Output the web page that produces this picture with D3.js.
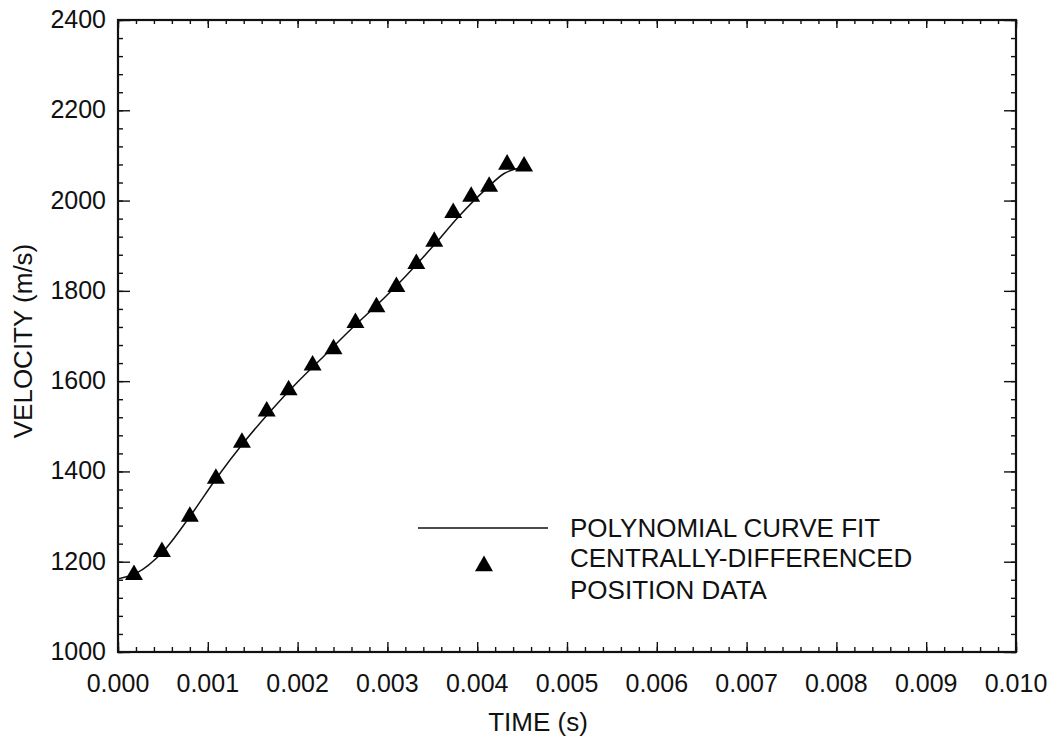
<!DOCTYPE html>
<html>
<head>
<meta charset="utf-8">
<script src="https://cdn.jsdelivr.net/npm/d3@7"></script>
<style>
  body { margin: 0; background: #fff; }
  svg { display: block; }
  text { font-family: 'Liberation Sans', Arial, Helvetica, sans-serif; fill: #111; }
</style>
</head>
<body>
<div id="plot"></div>
<script>
// Plot constants
let margin = {t: 20, r: 40, b: 86, l: 118}
let width = 1056 - margin.l - margin.r
let height = 738 - margin.t - margin.b

// Centrally-differenced position data (time in s, velocity in m/s)
let dataTime = [0.000178, 0.000489, 0.0008, 0.00109, 0.00138, 0.001656, 0.0019, 0.002167,
  0.0024, 0.002644, 0.002878, 0.0031, 0.003322, 0.003522, 0.003733, 0.003933, 0.004133,
  0.004333, 0.004522]
let dataVel = [1171, 1222, 1300, 1384, 1464, 1533, 1580, 1635, 1671, 1729, 1764, 1809,
  1860, 1909, 1973, 2009, 2031, 2080, 2076]

// Polynomial curve fit
let fitTime = [0, 0.0002, 0.0005, 0.0008, 0.0011, 0.0014, 0.0017, 0.002, 0.0023, 0.0026,
  0.0029, 0.0032, 0.0035, 0.0038, 0.0041, 0.0043, 0.0045]
let fitVel = [1162, 1174, 1222, 1300, 1386, 1464, 1534, 1598, 1657, 1716, 1772, 1832,
  1897, 1966, 2026, 2060, 2074]

// Axis ticks
let xTicks = [0, 0.001, 0.002, 0.003, 0.004, 0.005, 0.006, 0.007, 0.008, 0.009, 0.010]
let yTicks = [1000, 1200, 1400, 1600, 1800, 2000, 2200, 2400]

// Legend labels
let legendLine = ['POLYNOMIAL CURVE FIT']
let legendMarker = ['CENTRALLY-DIFFERENCED', 'POSITION DATA']

let svg = d3.select('#plot').append('svg')
  .attr('width', 1056)
  .attr('height', 738)

let g = svg.append('g')
  .attr('transform', `translate(${margin.l},${margin.t})`)

let x = d3.scaleLinear().domain([0, 0.010]).range([0, width])
let y = d3.scaleLinear().domain([1000, 2400]).range([height, 0])

// Minor ticks (5 subdivisions between labelled ticks)
let xMinor = d3.range(0, 51).map(i => i * 0.0002)
let yMinor = d3.range(0, 36).map(i => 1000 + i * 40)

function drawAxis(axis, tx, ty, size) {
  let a = g.append('g')
    .attr('transform', `translate(${tx},${ty})`)
    .call(axis.tickSizeInner(size).tickSizeOuter(0).tickFormat(''))
  a.select('.domain').remove()
  a.selectAll('line').attr('stroke', '#111').attr('stroke-width', 1.4)
  return a
}

// Inward ticks on all four sides
drawAxis(d3.axisTop(x).tickValues(xMinor), 0, height, 5)
drawAxis(d3.axisTop(x).tickValues(xTicks), 0, height, 10)
drawAxis(d3.axisBottom(x).tickValues(xMinor), 0, 0, 4)
drawAxis(d3.axisBottom(x).tickValues(xTicks), 0, 0, 8)
drawAxis(d3.axisRight(y).tickValues(yMinor), 0, 0, 5)
drawAxis(d3.axisRight(y).tickValues(yTicks), 0, 0, 12)
drawAxis(d3.axisLeft(y).tickValues(yMinor), width, 0, 5)
drawAxis(d3.axisLeft(y).tickValues(yTicks), width, 0, 12)

// Frame
g.append('rect')
  .attr('width', width)
  .attr('height', height)
  .attr('fill', 'none')
  .attr('stroke', '#111')
  .attr('stroke-width', 2.2)

// Tick labels
g.append('g').selectAll('text')
  .data(xTicks).enter().append('text')
  .attr('x', d => x(d))
  .attr('y', height + 40)
  .attr('text-anchor', 'middle')
  .style('font-size', '25px')
  .text(d => d3.format('.3f')(d))

g.append('g').selectAll('text')
  .data(yTicks).enter().append('text')
  .attr('x', -12)
  .attr('y', d => y(d) + 8)
  .attr('text-anchor', 'end')
  .style('font-size', '25px')
  .text(d => d)

// Axis titles
svg.append('text')
  .attr('x', 538)
  .attr('y', 731)
  .attr('text-anchor', 'middle')
  .style('font-size', '26px')
  .text('TIME (s)')

svg.append('text')
  .attr('transform', `translate(32,341) rotate(-90)`)
  .attr('text-anchor', 'middle')
  .style('font-size', '26px')
  .text('VELOCITY (m/s)')

// Curve fit
let fit = fitTime.map((t, i) => ({t: t, v: fitVel[i]}))
let line = d3.line()
  .x(d => x(d.t))
  .y(d => y(d.v))
  .curve(d3.curveMonotoneX)

g.append('path')
  .datum(fit)
  .attr('d', line)
  .attr('fill', 'none')
  .attr('stroke', '#111')
  .attr('stroke-width', 1.5)

// Data markers
let tri = d3.symbol().type(d3.symbolTriangle).size(140)
let pts = dataTime.map((t, i) => ({t: t, v: dataVel[i]}))
g.append('g').selectAll('path')
  .data(pts).enter().append('path')
  .attr('d', tri)
  .attr('transform', d => `translate(${x(d.t)},${y(d.v)})`)
  .attr('fill', '#000')

// Legend
let lg = svg.append('g')
lg.append('line')
  .attr('x1', 418).attr('x2', 548)
  .attr('y1', 528).attr('y2', 528)
  .attr('stroke', '#111')
  .attr('stroke-width', 1.5)
lg.append('text')
  .attr('x', 570).attr('y', 537)
  .style('font-size', '26px')
  .text(legendLine[0])
lg.append('path')
  .attr('d', tri)
  .attr('transform', 'translate(484,566)')
  .attr('fill', '#000')
lg.selectAll('text.m')
  .data(legendMarker).enter().append('text')
  .attr('class', 'm')
  .attr('x', 570)
  .attr('y', (d, i) => 567 + i * 32)
  .style('font-size', '26px')
  .text(d => d)
</script>
</body>
</html>
